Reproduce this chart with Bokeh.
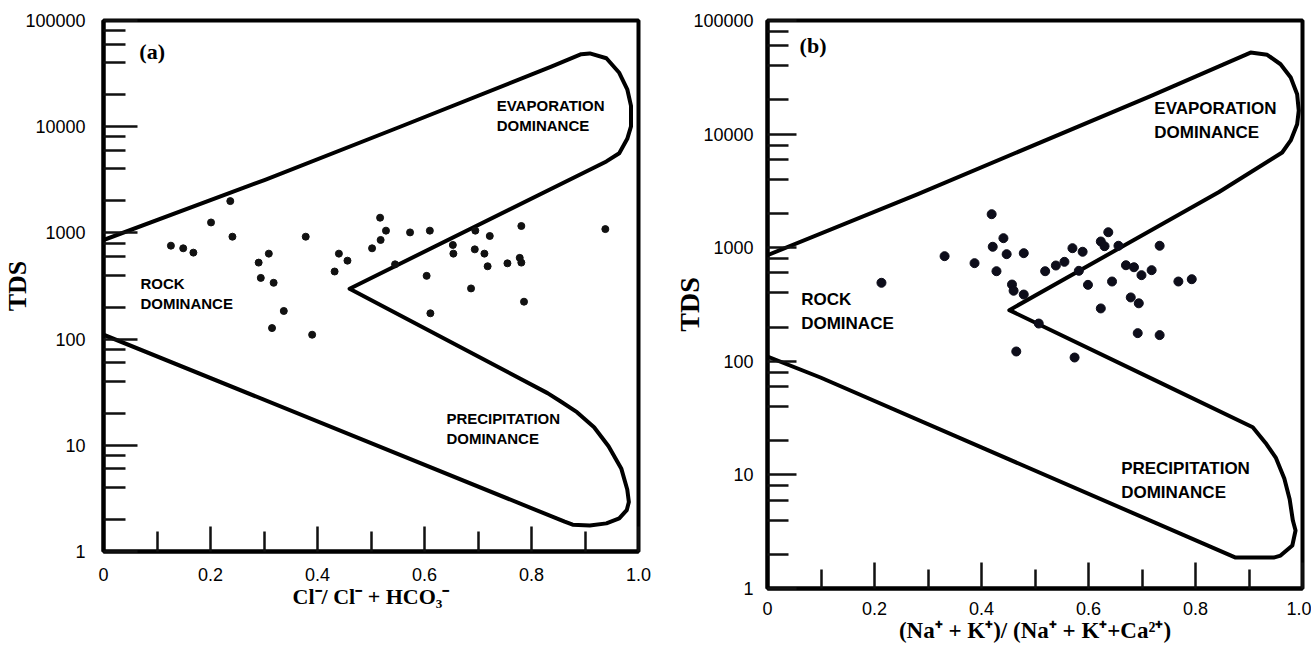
from bokeh.plotting import figure
from bokeh.layouts import row
from bokeh.models import FixedTicker, CustomJSTickFormatter, Label, Range1d
from bokeh.embed import file_html
from bokeh.resources import INLINE

# ---------------- data ----------------
# Gibbs envelope (boomerang) outlines
env_a_x = [0.000, 0.302, 0.557, 0.837, 0.893, 0.909, 0.940, 0.964, 0.979, 0.986, 0.986,
           0.979, 0.964, 0.940, 0.460, 0.830, 0.854, 0.885, 0.917, 0.944, 0.968,
           0.979, 0.982, 0.978, 0.964, 0.940, 0.909, 0.877, 0.862, 0.000]
env_a_tds = [857, 3160, 10100, 36800, 48200, 49000, 44100, 32200, 22500, 15700, 10070,
             7690, 5620, 4710, 298, 31, 26, 20.5, 14.8, 9.8, 6.0,
             3.83, 2.93, 2.45, 2.05, 1.84, 1.76, 1.79, 1.91, 110]

env_b_x = [0.000, 0.280, 0.716, 0.903, 0.934, 0.959, 0.978, 0.990, 0.993, 0.990, 0.978,
           0.962, 0.844, 0.452, 0.722, 0.907, 0.931, 0.950, 0.966, 0.976, 0.982, 0.987,
           0.981, 0.959, 0.946, 0.875, 0.099, 0.000]
env_b_tds = [860, 2950, 21600, 52200, 49900, 41200, 31500, 22400, 16100, 12200, 8790,
             6890, 3090, 282, 69, 26.3, 19.1, 14.2, 9.3, 6.1, 3.96, 3.24,
             2.39, 1.95, 1.87, 1.87, 72, 110]

# samples, panel (a): Cl/(Cl+HCO3) vs TDS
a_ratio = [0.237, 0.201, 0.241, 0.126, 0.149, 0.168, 0.378, 0.309, 0.290, 0.294,
           0.318, 0.337, 0.315, 0.390, 0.440, 0.456, 0.432, 0.502, 0.517, 0.528,
           0.518, 0.573, 0.610, 0.604, 0.611, 0.545, 0.653, 0.654, 0.695, 0.694,
           0.712, 0.722, 0.718, 0.687, 0.755, 0.781, 0.778, 0.781, 0.786, 0.938]
a_tds = [1992, 1254, 921, 758, 716, 652, 921, 638, 525, 377,
         339, 184, 127, 110, 638, 548, 433, 716, 1390, 1050,
         858, 1011, 1050, 394, 175, 506, 770, 638, 1050, 700,
         638, 935, 485, 300, 517, 1161, 582, 525, 225, 1086]

# samples, panel (b): (Na+K)/(Na+K+Ca) vs TDS
b_ratio = [0.419, 0.441, 0.421, 0.447, 0.479, 0.331, 0.387, 0.428, 0.213, 0.457,
           0.460, 0.479, 0.519, 0.539, 0.555, 0.570, 0.589, 0.582, 0.623, 0.637,
           0.630, 0.656, 0.599, 0.644, 0.623, 0.670, 0.685, 0.699, 0.718, 0.733,
           0.679, 0.694, 0.692, 0.733, 0.768, 0.793, 0.507, 0.465, 0.574]
b_tds = [1972, 1213, 1019, 877, 895, 842, 731, 621, 491, 474,
         418, 387, 621, 697, 751, 990, 921, 626, 1134, 1368,
         1031, 1040, 471, 504, 292, 701, 673, 573, 634, 1040,
         365, 324, 177, 170, 504, 528, 215, 122, 108]

x_major = [0, 0.2, 0.4, 0.6, 0.8, 1.0]
x_minor = [0.1, 0.3, 0.5, 0.7, 0.9]
y_major = [1, 10, 100, 1000, 10000, 100000]
y_minor = [2, 4, 6, 8, 20, 40, 60, 80, 200, 400, 600, 800,
           2000, 4000, 6000, 8000, 20000, 40000, 60000, 80000]

SANS = "Liberation Sans"
SERIF = "Liberation Serif"


def make_panel(width, height, bl, br, bt, bb, env_x, env_y, px, py, msize, mcolor,
               ytick_in, xtick_in, ystand, xstand, xlabel, xlabel_size, ylabel_size, ylabel_standoff):
    p = figure(width=width, height=height, x_range=Range1d(0, 1), y_range=Range1d(1, 100000),
               y_axis_type="log", output_backend="svg", toolbar_location=None,
               min_border_left=bl, min_border_right=br, min_border_top=bt, min_border_bottom=bb)
    p.grid.visible = False
    p.outline_line_color = "black"
    p.outline_line_width = 4
    p.background_fill_color = "white"
    p.border_fill_color = "white"

    p.xaxis.ticker = FixedTicker(ticks=x_major, minor_ticks=x_minor)
    p.yaxis.ticker = FixedTicker(ticks=y_major, minor_ticks=y_minor)
    p.xaxis.formatter = CustomJSTickFormatter(code="return tick === 0 ? '0' : tick.toFixed(1);")
    p.yaxis.formatter = CustomJSTickFormatter(code="return tick.toFixed(0);")

    for ax, (maj, mnr), st in ((p.xaxis[0], xtick_in, xstand), (p.yaxis[0], ytick_in, ystand)):
        ax.axis_line_color = "black"
        ax.axis_line_width = 4
        ax.major_tick_in = maj
        ax.major_tick_out = 0
        ax.minor_tick_in = mnr
        ax.minor_tick_out = 0
        ax.major_tick_line_color = "#111111"
        ax.major_tick_line_width = 2.5
        ax.minor_tick_line_color = "#111111"
        ax.minor_tick_line_width = 2.5
        ax.major_label_text_font = SANS
        ax.major_label_text_font_size = "18px"
        ax.major_label_text_color = "black"
        ax.major_label_standoff = st
        ax.axis_label_text_font = SERIF
        ax.axis_label_text_font_style = "bold"
        ax.axis_label_text_color = "black"

    p.xaxis.axis_label = xlabel
    p.xaxis.axis_label_text_font_size = xlabel_size
    p.xaxis.axis_label_standoff = 0
    p.yaxis.axis_label = "TDS"
    p.yaxis.axis_label_text_font_size = ylabel_size
    p.yaxis.axis_label_standoff = ylabel_standoff

    p.line(env_x, env_y, line_color="black", line_width=4, line_join="round")
    p.scatter(px, py, size=msize, color=mcolor)
    return p


def add_text(p, x, y, text, size, font=SANS, style="bold"):
    p.add_layout(Label(x=x, y=y, text=text, text_font=font, text_font_style=style,
                       text_font_size=size, text_color="black", text_align="left",
                       text_baseline="middle"))


# ---------------- panel (a) ----------------
pa = make_panel(660, 613, 102, 22, 20, 62, env_a_x, env_a_tds, a_ratio, a_tds, 7, "#111111",
                (34, 22), (25, 20), 18, 16,
                "Cl\u207b/ Cl\u207b + HCO\u2083\u207b", "22px", "26px", -10)

add_text(pa, 0.735, 15960, "EVAPORATION", "15px")
add_text(pa, 0.735, 10350, "DOMINANCE", "15px")
add_text(pa, 0.069, 334, "ROCK", "15px")
add_text(pa, 0.069, 217, "DOMINANCE", "15px")
add_text(pa, 0.641, 17.7, "PRECIPITATION", "15px")
add_text(pa, 0.641, 11.5, "DOMINANCE", "15px")
add_text(pa, 0.067, 51200, "(a)", "22px", font=SERIF)

# ---------------- panel (b) ----------------
pb = make_panel(651, 650, 107, 9, 20, 62, env_b_x, env_b_tds, b_ratio, b_tds, 9, "#0d0d1a",
                (29, 21), (26, 19), 14, 13,
                "(Na\u207a + K\u207a)/ (Na\u207a + K\u207a+Ca\u00b2\u207a)", "23px", "28px", -15)

add_text(pb, 0.723, 16800, "EVAPORATION", "17px")
add_text(pb, 0.723, 10330, "DOMINANCE", "17px")
add_text(pb, 0.063, 350, "ROCK", "17px")
add_text(pb, 0.063, 215, "DOMINACE", "17px")
add_text(pb, 0.661, 11.3, "PRECIPITATION", "17px")
add_text(pb, 0.661, 7.0, "DOMINANCE", "17px")
add_text(pb, 0.060, 60300, "(b)", "22px", font=SERIF)

layout = row(pa, pb)
open("out.html", "w").write(file_html(layout, INLINE))
